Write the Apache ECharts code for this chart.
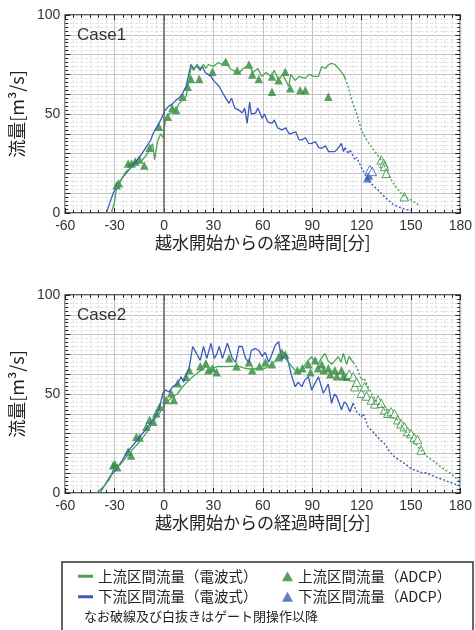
<!DOCTYPE html>
<html>
<head>
<meta charset="utf-8">
<script src="https://cdn.jsdelivr.net/npm/echarts@6/dist/echarts.min.js"></script>
<style>
  html, body { margin: 0; padding: 0; background: #fff; }
  #chart { width: 475px; height: 630px; }
</style>
</head>
<body>
<div id="chart"></div>
<script>
// x axis ticks (minutes after overflow start), y axis ticks (m3/s)
const xTicks = [-60, -30, 0, 30, 60, 90, 120, 150, 180];
const yTicks = [0, 50, 100];

// ---- Case1 ----
// upstream section discharge (radio), before / after gate closure
const c1Up = [[-32,0],[-30,6],[-28.8,13],[-26,17],[-23,21],[-20,23],[-17,24],[-14,26],[-11,29],[-8.7,32],[-7,35],[-5.7,27],[-4,36],[-2,40],[-0.5,38],[1,48],[3,50],[5,51],[7.3,52],[9,55],[11,57],[13.4,59],[15,66],[16.4,74],[18,72],[20,75],[22,73],[24,75],[25.4,73],[27,75],[30,74],[33,76],[35,75],[37.5,77.3],[40,73],[42,72],[45.5,70.6],[48,73],[51.6,74.7],[54,71],[57,73],[59.4,69],[62,71],[65,69],[67,72],[69.6,67],[72,70],[75.7,64],[77,70],[79.7,67],[82,69],[85.8,68],[88,70],[91,69],[93.8,69],[95.8,74],[98,73],[100,75],[101.8,75.6],[103.8,75],[106,73],[108.9,70],[110,68]];
const c1UpAfter = [[110,68],[111.9,63.8],[114,57],[116.9,50.4],[119.9,42],[123,37],[126,33.5],[129,30],[132,26.8],[135,22],[138,16.7],[141,13],[144,10],[147,8],[150,6.6],[153,5],[155,4]];
// downstream section discharge (radio)
const c1Dn = [[-35,0],[-33,5],[-30.9,10],[-28,14],[-24.8,18.3],[-21,22],[-18,25],[-14.8,28.4],[-11,33],[-8,37],[-6.7,40],[-4,44],[-2,47],[0.7,52],[3,54],[5,55],[7.3,57],[9,58],[11,60],[13.4,64],[15,70],[16.4,75],[18,73],[20,74],[22,72],[23.4,74],[25,71],[28.5,69],[30,67],[33.5,64],[36,60],[39.5,55.4],[41,58],[43,53],[45.5,52],[47.5,50.5],[49,53],[50.5,45.3],[52,56],[53,50],[55.6,50.4],[57,53],[59.6,47.8],[61,50],[63,46],[65.6,45.3],[67,47],[69,43],[71.6,42],[74,43],[76,40],[77.7,40.3],[80,41],[82,37],[83.7,36.9],[86,38],[88,35],[89.7,35.2],[92,36],[94,33],[95.8,32.7],[98,34],[100,31],[103.8,31],[106,33],[107.8,35.2],[109,31],[110,33]];
const c1DnAfter = [[110,33],[111.9,30],[113,32],[115.9,26.8],[117,28],[119.9,23],[123.9,16.7],[127,14],[130,11.6],[133,9],[136,6.6],[139,4.5],[142,3.2],[146,2],[150,1.2]];
// ADCP measurements
const c1UpAdcp = [[-28.8,14],[-27.5,15],[-21.8,25],[-19.8,25],[-17.5,26],[-15,27],[-12,24],[-8.7,33],[-3.1,43.6],[2.3,48.6],[5,53],[7.3,52],[11.3,58.7],[14.4,63.8],[16.4,67.7],[21.4,67.7],[29.4,71.4],[37.5,76.4],[44.5,72],[51.6,75],[53.6,70],[57.6,67.7],[65.6,69],[69.6,67],[73.6,71.4],[65.6,61.3],[76.7,63],[82.7,62],[85.8,62],[99.8,58.7]];
const c1UpAdcpAfter = [[132,26.8],[133.5,25],[134,23.5],[135,20],[146,8.2]];
const c1DnAdcp = [[123.5,17.5],[124.5,19]];
const c1DnAdcpAfter = [[125,22],[126.5,21]];

// ---- Case2 ----
const c2Up = [[-41,0],[-37,3],[-33,7],[-30.9,11.6],[-27,14],[-23,18],[-19,22],[-14.8,26],[-11,30],[-8,34],[-6.7,36],[-3,40],[0.7,45.3],[3,47],[5.3,48.6],[8,50],[11.3,53.7],[14,56],[17.4,58.7],[21,61],[25.4,63.8],[29,63],[33,64],[37.5,63.8],[41,64],[45.5,64],[49,63],[53.6,62.5],[57,63],[61.6,63],[65.6,65],[68,67],[71.6,71.4],[73.5,68],[75.7,66],[77.5,64],[79.7,62],[82,60],[84,63],[85.8,65],[87.5,67],[89.7,68.8],[91.5,66],[93.8,65],[95.5,68],[97.8,70.5],[99.5,67],[101.8,65],[104,67],[105.9,68.8],[107.5,66],[108.9,70.5],[110.9,65],[112.5,69],[114,67],[115,66]];
const c2UpAfter = [[115,66],[116.5,64],[117.9,62],[119.9,57],[121.5,58],[123.9,53.7],[127,49],[130,45.3],[133,43],[136,40.3],[139,38],[142,37],[145,33],[148,30],[151,27],[154,23.4],[157,21],[160,18.3],[164,16],[168,13.3],[171,11.5],[174,10],[178,7],[180,6]];
const c2Dn = [[-39,0],[-36,4],[-32.9,8.2],[-29,12],[-25,17],[-22.8,20],[-19,24],[-14.8,28.4],[-11,32],[-6.7,36.9],[-3,42],[-0.7,50.4],[1,52],[3,51],[5.3,53.7],[8,55],[10.4,58.7],[12,56],[15.4,63.8],[17.4,74],[20,70],[22,67],[24,74],[26,68],[28.5,75.6],[30.5,68],[32,70],[33.5,74],[35.5,68],[38.5,75.6],[41.5,68],[43.5,66],[45.5,74],[47.5,74],[49.5,68],[51.6,66],[53,72],[55.6,73],[57.6,72],[59.6,69],[61.5,71],[63.6,66],[65.5,70],[67.6,74.7],[69.6,76.4],[71.6,67],[73,70],[74.6,69],[77.7,58.7],[79.7,53.7],[81.5,56],[83.7,53.7],[85.5,57],[87.7,58.7],[89.7,52],[91.5,55],[93.8,58.7],[96.8,50.4],[98.5,53],[99.8,55],[101.8,45.3],[103.5,50],[105,48.6],[107.8,42],[109.5,46],[110.9,45],[112.9,41],[114.9,45.3]];
const c2DnAfter = [[114.9,45.3],[117,41],[119.9,38.5],[121,40],[123.9,33.5],[127.9,30],[131,27],[133.9,25],[137,21],[140,18.3],[143,16.5],[146,15],[149,13],[152,11.6],[156,10.5],[160,10],[165,8],[170,6.6],[175,5],[180,3.5]];
const c2UpAdcp = [[-30.9,14],[-29.9,14.5],[-28.5,13],[-21.8,21],[-20,19],[-16.8,28.4],[-14.8,28],[-10.7,33.5],[-8.7,37],[-6.5,36],[-4.7,40.3],[-2.7,43.6],[1.3,47],[4.3,50.4],[6,47],[8.3,55.4],[13.4,58.7],[15.4,62],[22,64],[25.4,65.5],[27,62],[29.4,63],[32,61],[39.5,68],[44,64],[51.6,66],[53.6,62],[58,64],[61.6,66],[65.6,65],[69.6,68.5],[71.6,71],[73.6,70],[81,62],[84,63],[87.7,65],[89,61],[91.8,67],[93.5,63],[95.8,65],[97,62],[99.8,63],[101,60],[103.8,62],[105,59],[107.8,62],[109,59],[110.9,58.7]];
const c2UpAdcpAfter = [[112.5,60],[114.9,58.7],[115.9,53.7],[117,56],[119.9,50.4],[121.9,53.7],[123,49],[126,47],[128,45],[130,47],[132,45.3],[134,42],[136,40.3],[138,41],[140,40],[142,37],[144,35],[146,33.5],[148,31],[150,30],[152,28],[154,27],[156.2,21.7]];

const upLineName = '上流区間流量（電波式）';
const dnLineName = '下流区間流量（電波式）';
const upAdcpName = '上流区間流量（ADCP）';
const dnAdcpName = '下流区間流量（ADCP）';
const noteText = 'なお破線及び白抜きはゲート閉操作以降';

const GREEN = '#4aa452';
const GREEN_DARK = '#2f8a3c';
const BLUE = '#3a5cb8';
const JP = '"Noto Sans CJK JP", sans-serif';
const NUM = '"Liberation Sans", Arial, sans-serif';

const chart = echarts.init(document.getElementById('chart'), null, {renderer: 'canvas'});

function mainX(gridIndex) {
    return {
        gridIndex: gridIndex,
        type: 'value',
        min: -60, max: 180, interval: 30,
        name: '越水開始からの経過時間[分]',
        nameLocation: 'middle',
        nameGap: 21,
        nameTextStyle: {fontFamily: JP, fontSize: 17, color: '#222', verticalAlign: 'top'},
        axisLine: {show: false, onZero: false},
        axisTick: {show: true, inside: true, length: 5, lineStyle: {color: '#222'}},
        minorTick: {show: true, splitNumber: 6, length: 3, lineStyle: {color: '#222'}},
        axisLabel: {
            fontFamily: NUM, fontSize: 14, color: '#333', margin: 6,
            formatter: v => xTicks.includes(v) ? String(v) : ''
        },
        splitLine: {show: true, lineStyle: {color: '#c4c4c4', width: 1}},
        minorSplitLine: {show: true, lineStyle: {color: '#e2e2e2', type: [3, 2]}}
    };
}
function sideX(gridIndex) {
    return {
        gridIndex: gridIndex, type: 'value', position: 'top',
        min: -60, max: 180, interval: 30,
        axisLine: {show: false, onZero: false},
        axisTick: {show: true, inside: true, length: 5, lineStyle: {color: '#222'}},
        minorTick: {show: true, splitNumber: 6, length: 3, lineStyle: {color: '#222'}},
        axisLabel: {show: false},
        splitLine: {show: false}
    };
}
function mainY(gridIndex) {
    return {
        gridIndex: gridIndex,
        type: 'value',
        min: 0, max: 100, interval: 10,
        name: '流量[m³/s]',
        nameLocation: 'middle',
        nameRotate: 90,
        nameGap: 33,
        nameTextStyle: {fontFamily: JP, fontSize: 18, color: '#222'},
        axisLine: {show: false, onZero: false},
        axisTick: {show: true, inside: true, length: 5, lineStyle: {color: '#222'}},
        minorTick: {show: true, splitNumber: 5, length: 3, lineStyle: {color: '#222'}},
        axisLabel: {
            fontFamily: NUM, fontSize: 14, color: '#333', margin: 5,
            formatter: v => yTicks.includes(v) ? String(v) : ''
        },
        splitLine: {show: true, lineStyle: {color: '#c4c4c4', width: 1}},
        minorSplitLine: {show: true, lineStyle: {color: '#e2e2e2', type: [3, 2]}}
    };
}
function sideY(gridIndex) {
    return {
        gridIndex: gridIndex, type: 'value', position: 'right',
        min: 0, max: 100, interval: 10,
        axisLine: {show: false, onZero: false},
        axisTick: {show: true, inside: true, length: 5, lineStyle: {color: '#222'}},
        minorTick: {show: true, splitNumber: 5, length: 3, lineStyle: {color: '#222'}},
        axisLabel: {show: false},
        splitLine: {show: false}
    };
}

function line(name, data, color, dashed, axis) {
    return {
        name: name, type: 'line', data: data,
        xAxisIndex: axis, yAxisIndex: axis,
        showSymbol: false, symbol: 'none',
        lineStyle: {color: color, width: dashed ? 1.4 : 1.3, type: dashed ? [2, 2] : 'solid'},
        itemStyle: {color: color},
        animation: false
    };
}
function tri(name, data, color, hollow, axis) {
    return {
        name: name, type: 'scatter', data: data,
        xAxisIndex: axis, yAxisIndex: axis,
        symbol: 'triangle', symbolSize: 8.5,
        itemStyle: hollow
            ? {color: '#ffffff', borderColor: color, borderWidth: 1}
            : {color: color},
        animation: false
    };
}
function zeroLine(axis) {
    // vertical reference line at t = 0
    return {
        type: 'line', data: [], xAxisIndex: axis, yAxisIndex: axis,
        markLine: {
            silent: true, symbol: 'none', label: {show: false},
            lineStyle: {color: '#666', width: 1.5, type: 'solid'},
            data: [{xAxis: 0}]
        }
    };
}

const caseStyle = {fontFamily: '"Liberation Sans Narrow", "Liberation Sans", sans-serif', fontSize: 17, fontWeight: 'normal', color: '#333'};

const option = {
    backgroundColor: '#fff',
    animation: false,
    title: [
        {text: 'Case1', left: 77, top: 27, padding: 0, textStyle: caseStyle},
        {text: 'Case2', left: 77, top: 307, padding: 0, textStyle: caseStyle}
    ],
    grid: [
        {left: 65, top: 15, width: 398, height: 198, show: true, borderColor: '#222', borderWidth: 1.5, backgroundColor: 'transparent'},
        {left: 65, top: 295, width: 398, height: 198, show: true, borderColor: '#222', borderWidth: 1.5, backgroundColor: 'transparent'}
    ],
    xAxis: [mainX(0), sideX(0), mainX(1), sideX(1)],
    yAxis: [mainY(0), sideY(0), mainY(1), sideY(1)],
    legend: [
        {
            data: [upLineName, dnLineName], orient: 'vertical', padding: 0,
            left: 78, top: 569, itemGap: 6, itemWidth: 15, itemHeight: 3, icon: 'rect',
            textStyle: {fontFamily: JP, fontSize: 14.5, color: '#222', lineHeight: 14}
        },
        {
            data: [upAdcpName, dnAdcpName], orient: 'vertical', padding: 0,
            left: 282, top: 569, itemGap: 6, itemWidth: 11, itemHeight: 10, icon: 'triangle',
            textStyle: {fontFamily: JP, fontSize: 14.5, color: '#222', lineHeight: 14}
        }
    ],
    graphic: [
        {type: 'rect', shape: {x: 62, y: 562, width: 411, height: 80}, style: {fill: 'none', stroke: '#333', lineWidth: 1.5}, silent: true},
        {type: 'text', x: 84, y: 616, style: {text: noteText, fontFamily: JP, fontSize: 13, fill: '#222', verticalAlign: 'middle'}, silent: true}
    ],
    series: [
        zeroLine(0),
        line(dnLineName, c1Dn, BLUE, false, 0),
        line(dnLineName + '閉後', c1DnAfter, BLUE, true, 0),
        line(upLineName, c1Up, GREEN, false, 0),
        line(upLineName + '閉後', c1UpAfter, GREEN, true, 0),
        tri(upAdcpName, c1UpAdcp, GREEN_DARK, false, 0),
        tri(upAdcpName + '閉後', c1UpAdcpAfter, GREEN_DARK, true, 0),
        tri(dnAdcpName, c1DnAdcp, BLUE, false, 0),
        tri(dnAdcpName + '閉後', c1DnAdcpAfter, BLUE, true, 0),

        zeroLine(2),
        line(dnLineName, c2Dn, BLUE, false, 2),
        line(dnLineName + '閉後2', c2DnAfter, BLUE, true, 2),
        line(upLineName, c2Up, GREEN, false, 2),
        line(upLineName + '閉後2', c2UpAfter, GREEN, true, 2),
        tri(upAdcpName, c2UpAdcp, GREEN_DARK, false, 2),
        tri(upAdcpName + '閉後2', c2UpAdcpAfter, GREEN_DARK, true, 2)
    ]
};

chart.setOption(option);
</script>
</body>
</html>
